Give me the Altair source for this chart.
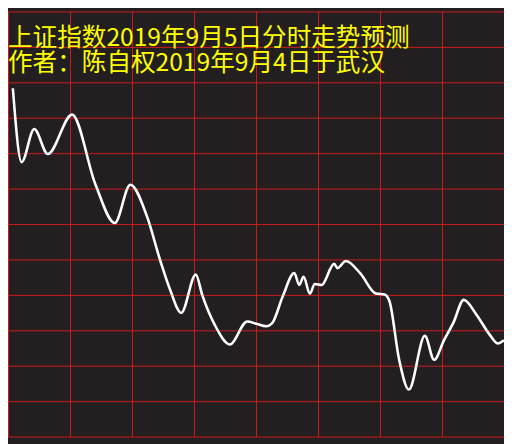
import altair as alt
import pandas as pd

# minutes after 9:30 (0-240) and value in grid units (0 = bottom, 12 = top)
minutes = [2.35, 6.58, 12.68, 19.26, 31.0, 42.27, 51.66, 59.18, 67.16, 73.74,
           78.44, 83.84, 90.88, 93.93, 100.04, 107.32, 115.77, 120.24, 124.93, 127.75,
           132.92, 138.55, 140.90, 143.01, 146.07, 148.42, 151.70, 157.81, 159.45, 163.45,
           170.49, 178.0, 182.23, 184.58, 189.28, 193.97, 201.72, 206.19, 210.88, 215.58,
           220.51, 226.85, 232.96, 236.95, 240.0]
values = [9.833, 7.747, 8.682, 7.977, 9.088, 7.124, 6.027, 7.111, 6.230, 4.957,
          4.144, 3.494, 4.578, 4.009, 3.156, 2.600, 3.251, 3.183, 3.115, 3.196,
          3.955, 4.618, 4.280, 4.510, 4.036, 4.307, 4.280, 4.876, 4.754, 4.957,
          4.605, 4.036, 4.009, 3.819, 2.167, 1.327, 2.844, 2.167, 2.709, 3.223,
          3.860, 3.427, 2.885, 2.628, 2.722]

x_ticks = [0, 30, 60, 90, 120, 150, 180, 210, 240]
y_ticks = list(range(0, 13))

title_lines = ["上证指数2019年9月5日分时走势预测", "作者：陈自权2019年9月4日于武汉"]

df = pd.DataFrame({"minute": minutes, "value": values})

GRID = "#d01c1c"
BG = "#231f20"
FONT = "Noto Sans CJK SC"

x_enc = alt.X("minute:Q", scale=alt.Scale(domain=[0, 240], nice=False, zero=False),
              axis=alt.Axis(values=x_ticks, grid=True, gridColor=GRID, gridWidth=1,
                            gridOpacity=1, labels=False, ticks=False, domain=False,
                            title=None))
y_enc = alt.Y("value:Q", scale=alt.Scale(domain=[0, 12], nice=False, zero=False),
              axis=alt.Axis(values=y_ticks, grid=True, gridColor=GRID, gridWidth=1,
                            gridOpacity=1, labels=False, ticks=False, domain=False,
                            title=None))

line = alt.Chart(df).mark_line(color="white", strokeWidth=2.6,
                               interpolate="monotone").encode(x=x_enc, y=y_enc)

t1 = alt.Chart(pd.DataFrame({"t": [title_lines[0]]})).mark_text(
    align="left", baseline="alphabetic", color="#ffff00", font=FONT, fontSize=25
).encode(x=alt.value(0), y=alt.value(35), text="t:N")
t2 = alt.Chart(pd.DataFrame({"t": [title_lines[1]]})).mark_text(
    align="left", baseline="alphabetic", color="#ffff00", font=FONT, fontSize=25
).encode(x=alt.value(0), y=alt.value(60), text="t:N")

chart = alt.layer(line, t1, t2).properties(
    width=504, height=432,
    autosize=alt.AutoSizeParams(type="none"),
    padding={"left": 0, "top": 0, "right": 0, "bottom": 4},
    background=BG,
).configure_view(strokeWidth=0)

chart.save("out.html", embed_options={"renderer": "svg", "actions": False})
